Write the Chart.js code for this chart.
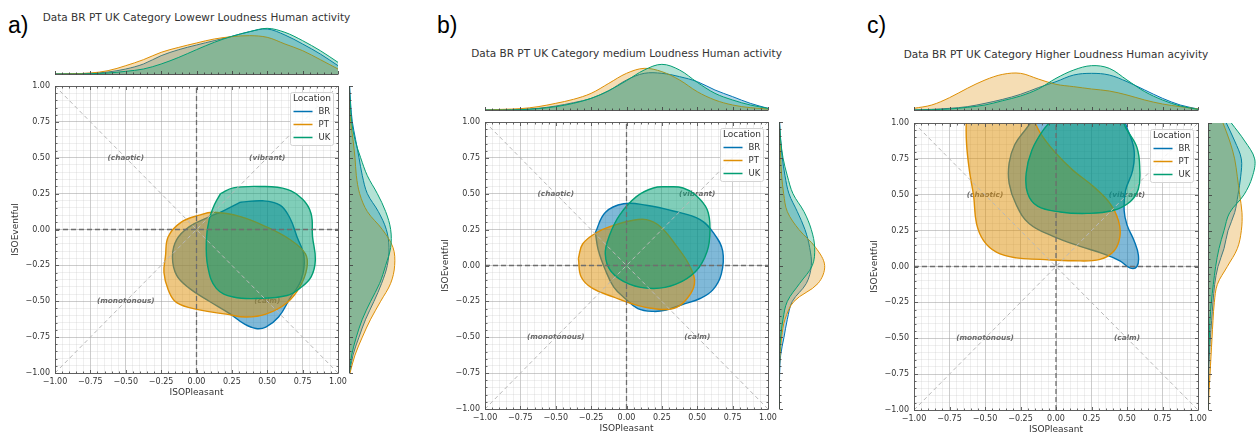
<!DOCTYPE html>
<html>
<head>
<meta charset="utf-8">
<script src="https://cdn.jsdelivr.net/npm/chart.js@4.4.0/dist/chart.umd.min.js"></script>
<style>
  body { margin: 0; background: #fff; width: 1258px; height: 436px; overflow: hidden; position: relative; }
  canvas { position: absolute; }
  .letter { position: absolute; font-family: "Liberation Sans", Arial, sans-serif; font-size: 23px; line-height: 23px; color: #000; }
  .ttl { position: absolute; width: 420px; text-align: center; font-family: "DejaVu Sans", sans-serif; font-size: 10.5px; line-height: 12px; color: #333; white-space: nowrap; }
</style>
</head>
<body>
<script>
// ---- data ----
const LOCATIONS = ['BR', 'PT', 'UK'];
const TITLES = [
  'Data BR PT UK Category Lowewr Loudness Human activity',
  'Data BR PT UK Category medium Loudness Human activity',
  'Data BR PT UK Category Higher Loudness Human acyivity'
];
const QUADRANTS = ['(chaotic)', '(vibrant)', '(monotonous)', '(calm)'];
const QUADRANT_AT = [[-0.5, 0.5], [0.5, 0.5], [-0.5, -0.5], [0.5, -0.5]];

// reference lines
const ZERO_H = [[-1, 0], [1, 0]];
const ZERO_V = [[0, -1], [0, 1]];
const DIAG_UP = [[-1, -1], [1, 1]];
const DIAG_DOWN = [[-1, 1], [1, -1]];

// density contours (ISOPleasant, ISOEventful)
const BLOB_A_BR = [[0.31,0.19],[0.47,0.20],[0.59,0.17],[0.66,0.08],[0.71,-0.05],[0.76,-0.19],[0.74,-0.35],[0.66,-0.48],[0.58,-0.61],[0.49,-0.68],[0.42,-0.69],[0.34,-0.66],[0.24,-0.59],[0.09,-0.50],[-0.05,-0.41],[-0.14,-0.32],[-0.17,-0.19],[-0.14,-0.07],[-0.05,0.02],[0.07,0.08],[0.19,0.13]];
const BLOB_A_PT = [[-0.22,-0.19],[-0.20,-0.05],[-0.11,0.05],[0.02,0.10],[0.12,0.12],[0.31,0.09],[0.49,0.02],[0.66,-0.07],[0.77,-0.17],[0.78,-0.27],[0.73,-0.40],[0.64,-0.51],[0.49,-0.59],[0.35,-0.61],[0.21,-0.59],[0.02,-0.56],[-0.14,-0.51],[-0.20,-0.42],[-0.23,-0.30]];
const BLOB_A_UK = [[0.17,0.25],[0.26,0.29],[0.45,0.30],[0.64,0.28],[0.75,0.21],[0.81,0.11],[0.82,-0.05],[0.84,-0.21],[0.81,-0.33],[0.73,-0.41],[0.64,-0.46],[0.45,-0.48],[0.26,-0.47],[0.14,-0.41],[0.08,-0.26],[0.07,-0.07],[0.09,0.07],[0.13,0.18]];

const BLOB_B_BR = [[-0.22,0.23],[-0.15,0.37],[-0.02,0.43],[0.14,0.42],[0.33,0.38],[0.52,0.32],[0.62,0.22],[0.68,0.10],[0.67,-0.06],[0.61,-0.17],[0.52,-0.23],[0.40,-0.27],[0.28,-0.31],[0.19,-0.32],[0.08,-0.30],[-0.01,-0.23],[-0.09,-0.15],[-0.15,-0.03],[-0.20,0.11]];
const BLOB_B_PT = [[-0.34,0.05],[-0.31,0.15],[-0.21,0.23],[-0.09,0.28],[0.02,0.31],[0.14,0.32],[0.24,0.27],[0.35,0.14],[0.45,-0.01],[0.48,-0.13],[0.42,-0.24],[0.33,-0.30],[0.19,-0.30],[0.05,-0.27],[-0.09,-0.22],[-0.24,-0.16],[-0.32,-0.08]];
const BLOB_B_UK = [[0.29,0.55],[0.40,0.54],[0.49,0.49],[0.57,0.39],[0.59,0.25],[0.57,0.10],[0.49,-0.04],[0.35,-0.13],[0.19,-0.16],[0.02,-0.13],[-0.11,-0.04],[-0.15,0.08],[-0.12,0.21],[-0.05,0.35],[0.07,0.48],[0.19,0.54]];

const BLOB_C_BR = [[-0.11,1.09],[-0.21,0.96],[-0.29,0.85],[-0.33,0.72],[-0.33,0.58],[-0.28,0.43],[-0.19,0.30],[-0.02,0.21],[0.17,0.14],[0.33,0.09],[0.45,0.04],[0.52,-0.01],[0.57,0.00],[0.58,0.08],[0.55,0.18],[0.50,0.29],[0.48,0.39],[0.49,0.53],[0.54,0.67],[0.55,0.81],[0.51,0.94],[0.43,1.07]];
const BLOB_C_PT = [[-0.18,1.07],[-0.11,0.93],[-0.01,0.80],[0.12,0.67],[0.26,0.56],[0.38,0.44],[0.44,0.32],[0.45,0.21],[0.41,0.11],[0.31,0.05],[0.12,0.04],[-0.11,0.05],[-0.28,0.06],[-0.42,0.10],[-0.51,0.18],[-0.56,0.30],[-0.58,0.49],[-0.61,0.67],[-0.63,0.86],[-0.63,1.02],[-0.61,1.09]];
const BLOB_C_UK = [[0.00,1.05],[-0.09,0.95],[-0.17,0.81],[-0.21,0.65],[-0.20,0.51],[-0.13,0.42],[0.03,0.38],[0.22,0.37],[0.40,0.39],[0.52,0.45],[0.58,0.54],[0.59,0.68],[0.57,0.83],[0.50,0.95],[0.43,1.05]];

// marginal KDE sample positions and densities
const KDE_AT = [-1,-0.875,-0.75,-0.625,-0.5,-0.375,-0.25,-0.125,0,0.125,0.25,0.375,0.5,0.625,0.75,0.875,1];

const TOP_A_BR = [0,0.01,0.02,0.06,0.15,0.30,0.55,0.73,0.87,1.00,1.13,1.27,1.35,1.17,0.90,0.60,0.25];
const TOP_A_PT = [0,0.01,0.03,0.10,0.25,0.43,0.65,0.80,0.93,1.05,1.12,1.15,1.10,0.90,0.70,0.43,0.15];
const TOP_A_UK = [0,0,0.01,0.03,0.08,0.15,0.30,0.50,0.73,0.95,1.13,1.27,1.37,1.25,1.00,0.70,0.35];

const TOP_B_BR = [0,0.01,0.02,0.05,0.12,0.22,0.35,0.58,0.90,1.10,1.10,1.00,0.85,0.60,0.40,0.20,0.05];
const TOP_B_PT = [0,0.02,0.04,0.10,0.20,0.32,0.50,0.80,1.10,1.25,1.15,0.90,0.55,0.30,0.15,0.07,0.03];
const TOP_B_UK = [0,0,0.01,0.04,0.10,0.20,0.35,0.58,0.88,1.20,1.37,1.20,0.83,0.50,0.30,0.15,0.05];

const TOP_C_BR = [0,0.02,0.05,0.10,0.20,0.32,0.47,0.67,0.85,1.05,1.10,1.05,0.85,0.60,0.35,0.15,0.03];
const TOP_C_PT = [0.05,0.15,0.37,0.65,0.90,1.07,1.10,0.93,0.77,0.70,0.63,0.57,0.45,0.30,0.18,0.10,0.03];
const TOP_C_UK = [0,0.01,0.03,0.08,0.15,0.28,0.42,0.63,0.95,1.20,1.33,1.25,0.90,0.55,0.30,0.12,0.02];

const RIGHT_A_BR = [0.02,0.12,0.30,0.50,0.75,0.98,1.15,1.20,1.12,0.88,0.55,0.40,0.30,0.20,0.10,0.05,0.02];
const RIGHT_A_PT = [0.03,0.18,0.40,0.65,0.95,1.25,1.37,1.32,1.00,0.55,0.32,0.22,0.18,0.12,0.05,0.02,0];
const RIGHT_A_UK = [0.01,0.08,0.22,0.40,0.65,0.92,1.10,1.25,1.25,1.10,0.85,0.55,0.35,0.18,0.08,0.04,0.01];

const RIGHT_B_BR = [0,0.01,0.02,0.05,0.15,0.25,0.40,0.82,0.97,0.92,0.78,0.55,0.30,0.18,0.10,0.05,0.02];
const RIGHT_B_PT = [0,0,0.01,0.03,0.08,0.18,0.45,1.17,1.37,1.10,0.60,0.25,0.14,0.08,0.05,0.03,0.01];
const RIGHT_B_UK = [0,0,0.01,0.02,0.05,0.12,0.25,0.62,1.00,1.07,0.97,0.75,0.42,0.25,0.12,0.05,0.01];

const RIGHT_C_BR = [0,0.01,0.02,0.04,0.07,0.11,0.15,0.20,0.30,0.48,0.60,0.80,0.90,0.98,1.00,0.80,0.55];
const RIGHT_C_PT = [0.01,0.03,0.06,0.09,0.12,0.15,0.19,0.28,0.58,0.88,1.00,1.02,0.95,0.88,0.80,0.65,0.45];
const RIGHT_C_UK = [0,0,0.01,0.02,0.04,0.06,0.10,0.16,0.23,0.33,0.48,0.65,1.08,1.33,1.40,1.10,0.70];

// ---- style / layout ----
const RGB = [[1,115,178],[222,143,5],[2,158,115]];
const rgba = (i, a) => 'rgba(' + RGB[i].join(',') + ',' + a + ')';
const FONT = '"DejaVu Sans", sans-serif';
Chart.defaults.font.family = FONT;
Chart.defaults.color = '#333';

const PANELS = [
  { letter: 'a)', lx: 8,   L: 55,  R: 338,  T: 86,  B: 373, base: 74,  titleY: 17, rx: 349,
    blobs: [BLOB_A_BR, BLOB_A_PT, BLOB_A_UK], top: [TOP_A_BR, TOP_A_PT, TOP_A_UK], right: [RIGHT_A_BR, RIGHT_A_PT, RIGHT_A_UK] },
  { letter: 'b)', lx: 437, L: 485, R: 768,  T: 122, B: 409, base: 110, titleY: 53, rx: 779,
    blobs: [BLOB_B_BR, BLOB_B_PT, BLOB_B_UK], top: [TOP_B_BR, TOP_B_PT, TOP_B_UK], right: [RIGHT_B_BR, RIGHT_B_PT, RIGHT_B_UK] },
  { letter: 'c)', lx: 867, L: 914, R: 1198, T: 123, B: 410, base: 110, titleY: 54, rx: 1208,
    blobs: [BLOB_C_BR, BLOB_C_PT, BLOB_C_UK], top: [TOP_C_BR, TOP_C_PT, TOP_C_UK], right: [RIGHT_C_BR, RIGHT_C_PT, RIGHT_C_UK] }
];

const isMajor = v => Math.abs(v * 4 - Math.round(v * 4)) < 1e-6;
const fmt = v => {
  if (!isMajor(v)) return '';
  const r = Math.round(v * 100) / 100;
  return r.toFixed(2).replace('-', '\u2212');
};

// ---- plugins ----
// spines with inward ticks (matplotlib style)
const frame = {
  id: 'frame',
  afterDatasetsDraw(chart, args, o) {
    if (!o.sides) return;
    const { ctx, chartArea: a } = chart;
    ctx.save();
    ctx.strokeStyle = o.color || '#555';
    ctx.lineWidth = 0.9;
    for (const side of o.sides) {
      const horiz = side === 'top' || side === 'bottom';
      const sc = horiz ? chart.scales.x : chart.scales.y;
      const pos = Math.round(a[side]) + 0.5;
      const dir = (side === 'top' || side === 'left') ? 1 : -1;
      ctx.beginPath();
      if (horiz) { ctx.moveTo(a.left, pos); ctx.lineTo(a.right, pos); }
      else { ctx.moveTo(pos, a.top); ctx.lineTo(pos, a.bottom); }
      for (let i = 0; i <= 40; i++) {
        const v = -1 + i * 0.05;
        const len = i % 5 === 0 ? 3.5 : 2;
        const p = Math.round(sc.getPixelForValue(v)) + 0.5;
        if (horiz) { ctx.moveTo(p, pos); ctx.lineTo(p, pos + dir * len); }
        else { ctx.moveTo(pos, p); ctx.lineTo(pos + dir * len, p); }
      }
      ctx.stroke();
    }
    ctx.restore();
  }
};

const quadText = {
  id: 'quadText',
  beforeDatasetsDraw(chart) {
    const { ctx, scales: { x, y } } = chart;
    ctx.save();
    ctx.font = 'italic bold 7.3px ' + FONT;
    ctx.fillStyle = '#6c6c6c';
    ctx.textAlign = 'center';
    ctx.textBaseline = 'middle';
    QUADRANTS.forEach((t, i) => ctx.fillText(t, x.getPixelForValue(QUADRANT_AT[i][0]), y.getPixelForValue(QUADRANT_AT[i][1])));
    ctx.restore();
  }
};

const boxLegend = {
  id: 'boxLegend',
  afterDraw(chart) {
    const { ctx, chartArea: a } = chart;
    const w = 43, h = 53;
    const x0 = Math.round(a.right - 5 - w) + 0.5, y0 = Math.round(a.top + 6) + 0.5;
    ctx.save();
    ctx.fillStyle = 'rgba(255,255,255,0.8)';
    ctx.strokeStyle = '#d4d4d4';
    ctx.lineWidth = 1;
    ctx.beginPath();
    if (ctx.roundRect) ctx.roundRect(x0, y0, w, h, 2); else ctx.rect(x0, y0, w, h);
    ctx.fill();
    ctx.stroke();
    ctx.fillStyle = '#333';
    ctx.textBaseline = 'middle';
    ctx.textAlign = 'center';
    ctx.font = '9px ' + FONT;
    ctx.fillText('Location', x0 + w / 2, y0 + 6);
    ctx.textAlign = 'left';
    ctx.font = '8.5px ' + FONT;
    LOCATIONS.forEach((loc, i) => {
      const yy = y0 + 19 + i * 13;
      ctx.strokeStyle = rgba(i, 1);
      ctx.lineWidth = 1.5;
      ctx.beginPath();
      ctx.moveTo(x0 + 3, yy);
      ctx.lineTo(x0 + 22, yy);
      ctx.stroke();
      ctx.fillText(loc, x0 + 28, yy);
    });
    ctx.restore();
  }
};

// ---- helpers ----
function addCanvas(left, top, w, h) {
  const c = document.createElement('canvas');
  c.width = w; c.height = h;
  c.style.left = left + 'px'; c.style.top = top + 'px';
  c.style.width = w + 'px'; c.style.height = h + 'px';
  document.body.appendChild(c);
  return c;
}

function addText(cls, text, left, top) {
  const d = document.createElement('div');
  d.className = cls;
  d.textContent = text;
  d.style.left = left + 'px';
  d.style.top = top + 'px';
  document.body.appendChild(d);
}

function axis(title, isX) {
  return {
    type: 'linear', min: -1, max: 1,
    ticks: { stepSize: 0.05, autoSkip: false, maxRotation: 0, minRotation: 0, padding: isX ? 4 : 5,
             font: { size: 8 }, color: '#333', callback: fmt },
    grid: { drawTicks: false,
            color: c => isMajor(c.tick.value) ? 'rgba(150,150,150,0.55)' : 'rgba(185,185,185,0.4)',
            lineWidth: c => isMajor(c.tick.value) ? 0.9 : 0.6 },
    border: { display: false },
    title: { display: true, text: title, font: { size: 9 }, color: '#333',
             padding: isX ? { top: 0, bottom: 9.6 } : { top: 10, bottom: 0 } },
    afterFit: s => {
      if (isX) s.height = 35; else s.width = 55;
      s.paddingLeft = s.paddingRight = s.paddingTop = s.paddingBottom = 0;
    }
  };
}

const pts = arr => arr.map(([x, y]) => ({ x, y }));

function mainChart(p) {
  const cl = p.L - 55, ct = p.T - 6;
  const cw = p.R - cl + 12, ch = p.B - ct + 35;
  const refLines = [ZERO_H, ZERO_V, DIAG_UP, DIAG_DOWN].map((l, i) => ({
    data: pts(l), showLine: true, fill: false, tension: 0, pointRadius: 0, order: 0,
    borderColor: i < 2 ? '#6e6e6e' : '#b8b8b8', borderWidth: i < 2 ? 1.3 : 1, borderDash: i < 2 ? [5, 3] : [4, 3]
  }));
  const shapes = LOCATIONS.map((loc, i) => ({
    label: loc, data: pts(p.blobs[i].concat([p.blobs[i][0]])), showLine: true, fill: 'shape', tension: 0.4,
    pointRadius: 0, borderColor: rgba(i, 1), backgroundColor: rgba(i, 0.5), borderWidth: 1.4, order: 3 - i
  }));
  new Chart(addCanvas(cl, ct, cw, ch), {
    type: 'scatter',
    data: { datasets: refLines.concat(shapes) },
    options: {
      responsive: false, animation: false, events: [],
      layout: { padding: { left: 0, top: 6, right: 12, bottom: 0 } },
      plugins: { legend: { display: false }, tooltip: { enabled: false }, frame: { sides: ['left', 'right', 'top', 'bottom'] } },
      scales: { x: axis('ISOPleasant', true), y: axis('ISOEventful', false) }
    },
    plugins: [quadText, frame, boxLegend]
  });
}

function topChart(p) {
  const cl = p.L - 2, ct = p.base - 56, cw = p.R - p.L + 4, ch = 58;
  new Chart(addCanvas(cl, ct, cw, ch), {
    type: 'line',
    data: { datasets: LOCATIONS.map((loc, i) => ({
      label: loc, data: KDE_AT.map((x, j) => ({ x, y: p.top[i][j] })), fill: 'origin', tension: 0.35,
      pointRadius: 0, borderColor: rgba(i, 1), backgroundColor: rgba(i, 0.3), borderWidth: 1, order: 3 - i
    })) },
    options: {
      responsive: false, animation: false, events: [],
      layout: { padding: { left: 2, right: 2, top: 6, bottom: 2 } },
      plugins: { legend: { display: false }, tooltip: { enabled: false }, frame: { sides: ['bottom'], color: '#444' } },
      scales: { x: { type: 'linear', min: -1, max: 1, display: false }, y: { type: 'linear', min: 0, max: 1.5, display: false } }
    },
    plugins: [frame]
  });
}

function rightChart(p) {
  const cl = p.rx, ct = p.T - 6, cw = Math.min(52, 1258 - p.rx), ch = p.B - p.T + 12;
  new Chart(addCanvas(cl, ct, cw, ch), {
    type: 'line',
    data: { datasets: LOCATIONS.map((loc, i) => ({
      label: loc, data: KDE_AT.map((y, j) => ({ x: p.right[i][j], y })), fill: 'origin', tension: 0.35,
      pointRadius: 0, borderColor: rgba(i, 1), backgroundColor: rgba(i, 0.3), borderWidth: 1, order: 3 - i
    })) },
    options: {
      indexAxis: 'y',
      responsive: false, animation: false, events: [],
      layout: { padding: { left: 0, right: cw - 50, top: 6, bottom: 6 } },
      plugins: { legend: { display: false }, tooltip: { enabled: false }, frame: { sides: ['left'], color: '#444' } },
      scales: { x: { type: 'linear', min: 0, max: 1.5, display: false }, y: { type: 'linear', min: -1, max: 1, display: false } }
    },
    plugins: [frame]
  });
}

PANELS.forEach((p, k) => {
  addText('letter', p.letter, p.lx, 14);
  addText('ttl', TITLES[k], (p.L + p.R) / 2 - 210, p.titleY - 6);
  topChart(p);
  mainChart(p);
  rightChart(p);
});
</script>
</body>
</html>
